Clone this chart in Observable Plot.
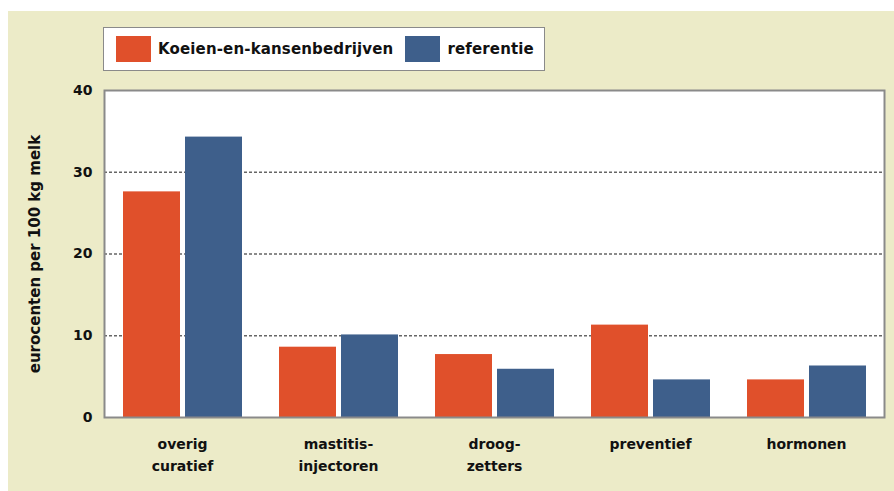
<!DOCTYPE html>
<html>
<head>
<meta charset="utf-8">
<script src="https://cdn.jsdelivr.net/npm/d3@7"></script>
<script src="https://cdn.jsdelivr.net/npm/@observablehq/plot@0.6"></script>
<style>
  body { margin: 0; background: #fff; }
  #wrap { position: relative; width: 894px; height: 491px; overflow: hidden; background: #fff; font-family: "DejaVu Sans", sans-serif; font-weight: bold; color: #111; }
  #bg { position: absolute; left: 8px; top: 11px; right: 0; bottom: 0; background: #ecebc8; }
  #legend { position: absolute; left: 103px; top: 27px; width: 440px; height: 42px; background: #fff; border: 1.5px solid #8a8a8a; display: flex; align-items: center; font-size: 15px; letter-spacing: 0.15px; }
  .sw { width: 35px; height: 26px; margin-left: 12px; margin-right: 7px; }
  #chart { position: absolute; left: 0; top: 80px; }
</style>
</head>
<body>
<div id="wrap">
  <div id="bg"></div>
  <div id="legend"></div>
  <div id="chart"></div>
</div>
<script>
const categories = ["overig\ncuratief", "mastitis-\ninjectoren", "droog-\nzetters", "preventief", "hormonen"];
const seriesNames = ["Koeien-en-kansenbedrijven", "referentie"];
const koeien = [27.6, 8.6, 7.7, 11.3, 4.6];
const referentie = [34.3, 10.1, 5.9, 4.6, 6.3];
const yTicks = [0, 10, 20, 30, 40];
const gridTicks = [10, 20, 30];
const colors = ["#e0502b", "#3e5f8b"];

const legend = document.getElementById("legend");
seriesNames.forEach((name, i) => {
  const sw = document.createElement("div");
  sw.className = "sw";
  sw.style.background = colors[i];
  legend.appendChild(sw);
  const t = document.createElement("span");
  t.textContent = name;
  legend.appendChild(t);
});

const dataK = categories.map((c, i) => ({cat: c, value: koeien[i]}));
const dataR = categories.map((c, i) => ({cat: c, value: referentie[i]}));

const chart = Plot.plot({
  width: 894,
  height: 411,
  marginTop: 10,
  marginBottom: 74,
  marginLeft: 104,
  marginRight: 10,
  style: {fontFamily: "DejaVu Sans", fontSize: "14px", fontWeight: "bold", color: "#111", background: "transparent", overflow: "visible"},
  x: {domain: categories, padding: 0},
  y: {domain: [0, 40]},
  marks: [
    Plot.frame({fill: "white"}),
    Plot.ruleY(gridTicks, {stroke: "#666", strokeWidth: 1.6, strokeDasharray: "3,2"}),
    Plot.barY(dataK, {x: "cat", y: "value", fill: colors[0], insetLeft: 19, insetRight: 80}),
    Plot.barY(dataR, {x: "cat", y: "value", fill: colors[1], insetLeft: 81, insetRight: 18}),
    Plot.frame({stroke: "#8a8a8a", strokeWidth: 2}),
    Plot.axisY({ticks: yTicks, tickSize: 0, tickPadding: 12, label: null, fontSize: 14}),
    Plot.axisX({tickSize: 0, tickPadding: 16, label: null, lineHeight: 1.55, fontSize: 14}),
    Plot.text(["eurocenten per 100 kg melk"], {frameAnchor: "left", textAnchor: "middle", dx: -69, rotate: -90, fontSize: 15})
  ]
});
document.getElementById("chart").appendChild(chart);
</script>
</body>
</html>
